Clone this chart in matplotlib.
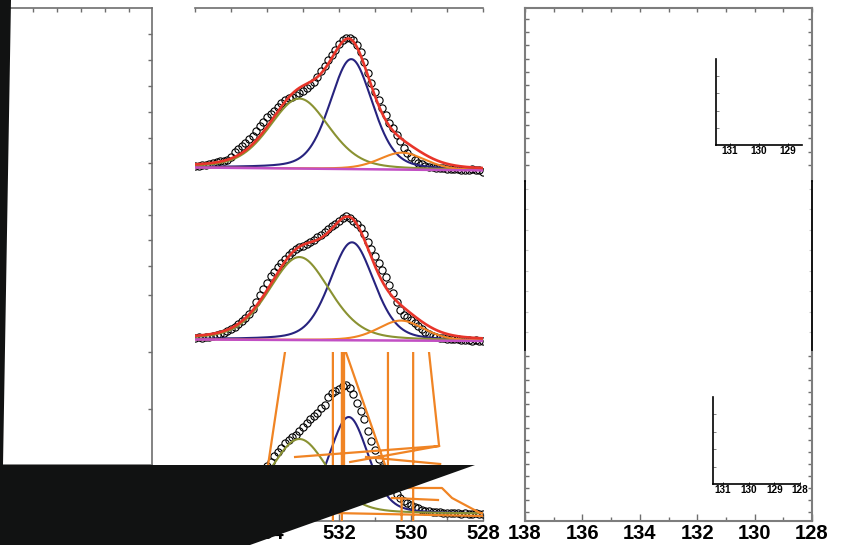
import numpy as np
import matplotlib
matplotlib.use('Agg')
import matplotlib.pyplot as plt
from matplotlib.patches import Polygon
from matplotlib.ticker import MultipleLocator, FixedLocator

plt.rcParams['font.family'] = ['Liberation Sans', 'DejaVu Sans']

W, H = 843, 545

# O 1s binding energy grid (eV), 0.1 eV step from 536 down to 528
energy = np.round(np.linspace(536.0, 528.0, 81), 1)

o1s_top = [2, 2, 3, 3, 4, 5, 6, 7, 7, 8,
           11, 16, 19, 22, 25, 29, 32, 37, 42, 46,
           51, 54, 57, 61, 65, 68, 70, 72, 74, 76,
           78, 81, 84, 87, 92, 98, 103, 109, 114, 119,
           125, 129, 131, 131, 129, 124, 117, 107, 96, 86,
           77, 69, 61, 54, 47, 42, 35, 29, 22, 17,
           13, 10, 7, 6, 4, 3, 3, 2, 2, 2,
           1, 1, 1, 1, 0, 0, 0, 1, 0, 0,
           -1]
o1s_mid = [2, 3, 2, 3, 3, 4, 5, 6, 7, 9,
           11, 13, 16, 19, 22, 26, 31, 38, 45, 51,
           57, 64, 68, 73, 77, 81, 85, 88, 91, 93,
           94, 96, 98, 100, 103, 105, 108, 111, 114, 116,
           119, 122, 124, 122, 119, 116, 112, 106, 98, 91,
           84, 77, 70, 63, 56, 48, 39, 31, 26, 24,
           21, 18, 15, 12, 9, 7, 5, 4, 3, 3,
           2, 2, 2, 2, 1, 1, 1, 0, 1, 0,
           0]
o1s_bot = [1, 2, 2, 3, 3, 4, 5, 6, 8, 9,
           11, 13, 16, 19, 22, 26, 30, 35, 40, 44,
           48, 52, 58, 62, 66, 71, 74, 77, 79, 83,
           87, 91, 95, 98, 101, 106, 109, 117, 121, 123,
           125, 128, 129, 126, 120, 111, 103, 95, 83, 73,
           64, 55, 47, 39, 32, 26, 20, 16, 13, 11,
           9, 7, 6, 4, 3, 3, 2, 2, 2, 1,
           1, 1, 1, 1, 0, 1, 0, 0, 1, 0,
           0]

# fitted components: [lattice O, O-H / defect O, high-BE O]  (centre eV, height, FWHM eV)
centres_top = [531.66, 533.10, 530.25]
heights_top = [110, 70, 17]
fwhm_top = [1.40, 1.95, 1.50]
centres_mid = [531.64, 533.10, 530.28]
heights_mid = [98, 83, 20]
fwhm_mid = [1.45, 2.00, 1.50]
centres_bot = [531.73, 533.10]
heights_bot = [97, 75]
fwhm_bot = [1.30, 1.90]

# linear background, value at 536 eV and at 528 eV
bg_top = [1.5, -1.5]
bg_mid = [0.5, -1.0]

# the broken orange trace in the lowest spectrum (NaN = pen up)
nan = np.nan
glitch_E = [533.50, 533.97, 534.14, nan, 532.17, 532.17, nan, 531.92, 531.92, nan,
            531.86, 531.86, nan, 531.81, 530.72, 530.50, nan, 530.64, 530.64, nan,
            529.94, 529.94, nan, 529.50, 529.22, 533.22, nan, 529.22, 531.69, nan,
            531.25, 529.19, nan, 530.58, 529.14, 528.86, 528.08, 527.80, nan,
            530.53, 529.25, nan, 532.17, 528.00, nan, 530.26, 530.26]
glitch_h = [162, 49, 2, nan, 170, -10, nan, 170, -10, nan,
            170, 49, nan, 162, 49, 24, nan, 170, 44, nan,
            170, -10, nan, 162, 68, 57, nan, 68, 52, nan,
            57, 50, nan, 26, 26, 16, 1, 0, nan,
            16, 14, nan, 1, -2, nan, 16, -10]

inset_ticks_top = [131, 130, 129]
inset_ticks_bot = [131, 130, 129, 128]

BLUE = '#27237e'
GREEN = '#8a9232'
ORANGE = '#f08424'
RED = '#e8352a'
MAGENTA = '#c24fc4'
GREY = '#6e6e6e'


def pv(x, c, h, w, eta=0.3):
    t = 4 * (x - c) ** 2 / w ** 2
    return h * ((1 - eta) * np.exp(-np.log(2) * t) + eta / (1 + t))


fig = plt.figure(figsize=(W / 100, H / 100), dpi=100)


def px_axes(x0, y0, x1, y1):
    return fig.add_axes([x0 / W, 1 - y1 / H, (x1 - x0) / W, (y1 - y0) / H])


def frame(ax, sides, color=GREY, lw=1.2):
    for s in ['left', 'right', 'top', 'bottom']:
        ax.spines[s].set_visible(s in sides)
        ax.spines[s].set_color(color)
        ax.spines[s].set_linewidth(lw)


# ---- left (empty) panel
axL = px_axes(3, 8, 152, 465)
axL.set_xlim(3, 152)
axL.set_ylim(465, 8)
frame(axL, ['top', 'right', 'bottom'])
axL.xaxis.set_major_locator(FixedLocator([33, 57, 81, 105, 129]))
axL.yaxis.set_major_locator(FixedLocator([34, 60, 86, 112, 138, 163, 189, 215, 240, 266, 295, 352, 409]))
axL.tick_params(top=True, bottom=False, left=False, right=True, labelbottom=False,
                labelleft=False, direction='in', length=3, color=GREY, width=1)

# ---- middle panel: O 1s
fine = np.linspace(536.2, 527.8, 500)
mid_boxes = [(8, 181), (181, 352), (352, 521)]
ylims = [(-12, 161), (-12, 159), (-7, 162)]
axM = []
for (y0, y1), yl in zip(mid_boxes, ylims):
    ax = px_axes(195, y0, 483, y1)
    ax.set_xlim(536, 528)
    ax.set_ylim(*yl)
    ax.set_facecolor('none')
    frame(ax, [])
    ax.tick_params(left=False, bottom=False, labelleft=False, labelbottom=False)
    axM.append(ax)

for ax, data, cs, hs, ws, bg in [(axM[0], o1s_top, centres_top, heights_top, fwhm_top, bg_top),
                                 (axM[1], o1s_mid, centres_mid, heights_mid, fwhm_mid, bg_mid)]:
    base_d = np.interp(energy, [528, 536], [bg[1], bg[0]])
    base_f = np.interp(fine, [528, 536], [bg[1], bg[0]])
    ax.plot(energy, np.array(data) + base_d, 'o', mfc='none', mec='black', ms=5.2, mew=0.8, zorder=2)
    comps = [pv(fine, c, h, w) for c, h, w in zip(cs, hs, ws)]
    for comp, col in zip(comps, [BLUE, GREEN, ORANGE]):
        ax.plot(fine, comp + base_f, color=col, lw=1.5, zorder=3)
    ax.plot(fine, base_f, color=MAGENTA, lw=1.8, zorder=3)
    ax.plot(fine, sum(comps) + base_f, color=RED, lw=1.9, zorder=4)

axB = axM[2]
axB.plot(energy, o1s_bot, 'o', mfc='none', mec='black', ms=5.2, mew=0.8, zorder=2)
for c, h, w, col in zip(centres_bot, heights_bot, fwhm_bot, [BLUE, GREEN]):
    axB.plot(fine, pv(fine, c, h, w), color=col, lw=1.5, zorder=3)
axB.plot(glitch_E, glitch_h, color=ORANGE, lw=1.6, zorder=4)

axM[0].spines['top'].set_visible(True)
axM[0].xaxis.set_major_locator(MultipleLocator(1))
axM[0].tick_params(top=True, direction='in', length=3, color=GREY, width=1)
axB.spines['bottom'].set_visible(True)
axB.xaxis.set_major_locator(FixedLocator([534, 532, 530, 528]))
axB.xaxis.set_minor_locator(MultipleLocator(1))
axB.tick_params(axis='x', which='both', bottom=True, labelbottom=True, direction='in',
                color=GREY, width=1, labelsize=14.5, pad=2)
axB.tick_params(axis='x', which='major', length=5)
axB.tick_params(axis='x', which='minor', length=3)
for t in axB.get_xticklabels():
    t.set_fontweight('bold')

# ---- right panel: Ti 3p region (empty frames + insets)
right_boxes = [(8, 181), (181, 352), (352, 521)]
axR = []
for i, (y0, y1) in enumerate(right_boxes):
    ax = px_axes(525, y0, 812, y1)
    ax.set_xlim(138, 128)
    ax.set_ylim(0, y1 - y0)
    ax.set_facecolor('none')
    axR.append(ax)

frame(axR[0], ['left', 'right', 'top'], color='#7d7d7d', lw=1.5)
axR[0].xaxis.set_major_locator(MultipleLocator(1))
axR[0].yaxis.set_major_locator(FixedLocator(np.arange(16, 173, 13.3)))
axR[0].tick_params(top=True, bottom=False, left=True, right=True, labelbottom=False,
                   labelleft=False, direction='in', length=3, color=GREY, width=1)

frame(axR[1], ['left', 'right'], color='black', lw=1.3)
axR[1].yaxis.set_major_locator(FixedLocator(np.arange(20, 171, 20.5)))
axR[1].tick_params(bottom=False, left=True, right=True, labelbottom=False, labelleft=False,
                   direction='in', length=2, color='#c8c8c8', width=0.8)

frame(axR[2], ['left', 'right', 'bottom'], color='#7d7d7d', lw=1.5)
axR[2].xaxis.set_major_locator(MultipleLocator(2))
axR[2].xaxis.set_minor_locator(MultipleLocator(1))
axR[2].yaxis.set_major_locator(FixedLocator(np.arange(9, 169, 12)))
axR[2].tick_params(axis='y', left=True, right=True, labelleft=False, direction='in',
                   length=3, color=GREY, width=1)
axR[2].tick_params(axis='x', which='both', direction='in', color=GREY, width=1,
                   labelsize=14.5, pad=2)
axR[2].tick_params(axis='x', which='major', length=5)
axR[2].tick_params(axis='x', which='minor', length=3)
for t in axR[2].get_xticklabels():
    t.set_fontweight('bold')

for box, xl, ticks in [((716, 59, 802, 145), (131.48, 128.52), inset_ticks_top),
                       ((713, 397, 800, 484), (131.38, 128.0), inset_ticks_bot)]:
    ins = px_axes(*box)
    ins.set_facecolor('none')
    ins.set_xlim(*xl)
    ins.set_ylim(0, 1)
    frame(ins, ['left', 'bottom'], color='black', lw=1.2)
    ins.set_xticks(ticks)
    ins.yaxis.set_major_locator(FixedLocator([0.2, 0.4, 0.6, 0.8]))
    ins.tick_params(axis='x', direction='in', length=1.5, width=0.6, labelsize=7.2, pad=1)
    ins.tick_params(axis='y', direction='in', length=2, width=0.6, color=GREY, labelleft=False)
    for t in ins.get_xticklabels():
        t.set_fontweight('bold')

# black wedge overlay covering the lower-left part of the picture
wedge = [(0, 0), (11, 0), (3, 465), (475, 465), (250, 545), (0, 545)]
fig.add_artist(Polygon([(x / W, 1 - y / H) for x, y in wedge], closed=True,
                       transform=fig.transFigure, facecolor='#111212', edgecolor='none',
                       zorder=10))

fig.savefig('out.png', dpi=100)
